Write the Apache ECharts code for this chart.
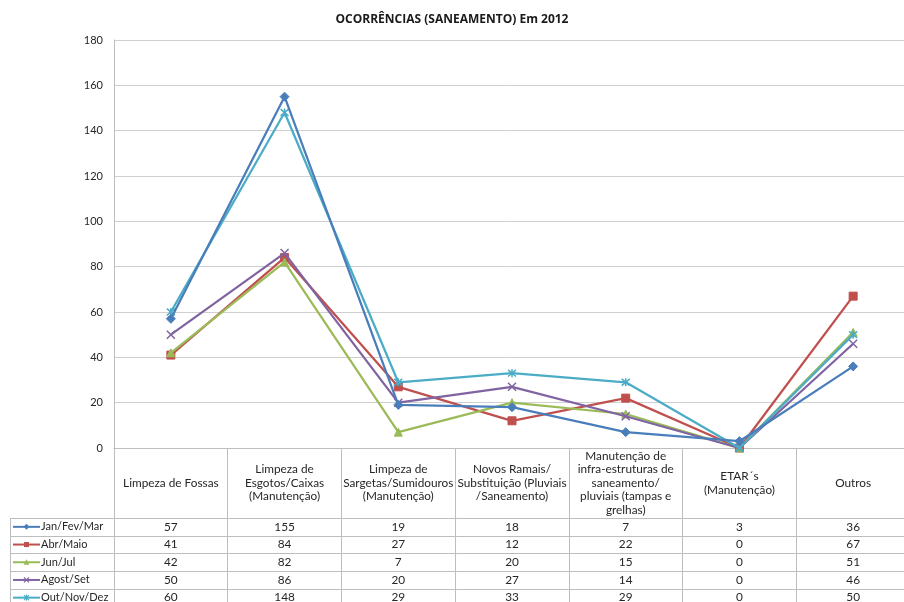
<!DOCTYPE html>
<html>
<head>
<meta charset="utf-8">
<script src="https://cdn.jsdelivr.net/npm/echarts@6/dist/echarts.min.js"></script>
<style>
  html, body { margin: 0; padding: 0; background: #ffffff; }
  #chart { width: 904px; height: 602px; }
</style>
</head>
<body>
<div id="chart"></div>
<script>
// Categories (header row of the data table)
const categories = [
  'Limpeza de Fossas',
  'Limpeza de\nEsgotos/Caixas\n(Manutenção)',
  'Limpeza de\nSargetas/Sumidouros\n(Manutenção)',
  'Novos Ramais/\nSubstituição (Pluviais\n/Saneamento)',
  'Manutenção de\ninfra-estruturas de\nsaneamento/\npluviais (tampas e\ngrelhas)',
  'ETAR´s\n(Manutenção)',
  'Outros'
];

// Period names and their occurrence counts
const seriesNames = ['Jan/Fev/Mar', 'Abr/Maio', 'Jun/Jul', 'Agost/Set', 'Out/Nov/Dez'];
const janFevMar = [57, 155, 19, 18, 7, 3, 36];
const abrMaio   = [41, 84, 27, 12, 22, 0, 67];
const junJul    = [42, 82, 7, 20, 15, 0, 51];
const agostSet  = [50, 86, 20, 27, 14, 0, 46];
const outNovDez = [60, 148, 29, 33, 29, 0, 50];
const seriesValues = [janFevMar, abrMaio, junJul, agostSet, outNovDez];

// Value axis ticks
const yTicks = [0, 20, 40, 60, 80, 100, 120, 140, 160, 180];

const colors = ['#4A7EBB', '#C0504D', '#9BBB59', '#8064A2', '#4BACC6'];
const xPath = 'path://M0,0L10,10M10,0L0,10';
const starPath = 'path://M0,0L10,10M10,0L0,10M5,-1L5,11';
const symbols = [
  { symbol: 'diamond', size: 9, hollow: false },
  { symbol: 'rect', size: 8, hollow: false },
  { symbol: 'triangle', size: 8, hollow: false },
  { symbol: xPath, size: 8, hollow: true },
  { symbol: starPath, size: 8, hollow: true }
];

const FONT = 'Lato';
const TABLE_FONT_SIZE = 11.8;
const LEGEND_FONT_SIZE = 11;
const gridColor = '#d0d0d0';
const tableColor = '#bdbdbd';

const chart = echarts.init(document.getElementById('chart'), null, { renderer: 'canvas' });

const option = {
  backgroundColor: '#ffffff',
  animation: false,
  title: {
    text: 'OCORRÊNCIAS (SANEAMENTO) Em 2012',
    left: 'center',
    top: 9,
    textStyle: { fontFamily: 'Open Sans', fontWeight: 'bold', fontSize: 12, color: '#1a1a1a' }
  },
  grid: { left: 114, top: 40, width: 796, height: 408, containLabel: false, outerBoundsMode: 'none' },
  xAxis: {
    type: 'category',
    data: categories,
    boundaryGap: true,
    axisLine: { show: true, lineStyle: { color: tableColor, width: 1 } },
    axisTick: { show: true, inside: false, length: 170, alignWithLabel: false, lineStyle: { color: tableColor } },
    axisLabel: {
      interval: 0,
      margin: 35,
      verticalAlign: 'middle',
      fontFamily: FONT,
      fontSize: TABLE_FONT_SIZE,
      lineHeight: 13.5,
      color: '#262626'
    },
    splitLine: { show: false }
  },
  yAxis: {
    type: 'value',
    min: yTicks[0],
    max: yTicks[yTicks.length - 1],
    interval: yTicks[1] - yTicks[0],
    axisLine: { show: true, lineStyle: { color: tableColor } },
    axisTick: { show: false },
    axisLabel: { fontFamily: FONT, fontSize: 11, color: '#262626', margin: 11 },
    splitLine: { show: true, lineStyle: { color: gridColor, width: 1 } }
  },
  series: seriesNames.map((name, i) => ({
    name,
    type: 'line',
    data: seriesValues[i],
    symbol: symbols[i].symbol,
    symbolSize: symbols[i].size,
    showAllSymbol: true,
    lineStyle: { color: colors[i], width: 2.25 },
    itemStyle: symbols[i].hollow
      ? { color: 'rgba(0,0,0,0)', borderColor: colors[i], borderWidth: 1.5 }
      : { color: colors[i], borderColor: colors[i], borderWidth: 1 },
    z: 2 + (i === 0 ? 5 : i)
  }))
};

chart.setOption(option);

// Small marker drawn inside a legend key, matching each series' symbol
function keyMarker(i, cx, cy) {
  const c = colors[i];
  const s = 3;
  if (i === 0) {
    return [{ type: 'polygon', silent: true, shape: { points: [[cx, cy - s], [cx + s, cy], [cx, cy + s], [cx - s, cy]] }, style: { fill: c } }];
  }
  if (i === 1) {
    return [{ type: 'rect', silent: true, shape: { x: cx - 2.5, y: cy - 2.5, width: 5, height: 5 }, style: { fill: c } }];
  }
  if (i === 2) {
    return [{ type: 'polygon', silent: true, shape: { points: [[cx, cy - s], [cx + s, cy + s - 0.5], [cx - s, cy + s - 0.5]] }, style: { fill: c } }];
  }
  const seg = (x1, y1, x2, y2) => ({ type: 'line', silent: true, shape: { x1, y1, x2, y2 }, style: { stroke: c, lineWidth: 1.2 } });
  const out = [seg(cx - 2.5, cy - 2.5, cx + 2.5, cy + 2.5), seg(cx + 2.5, cy - 2.5, cx - 2.5, cy + 2.5)];
  if (i === 4) out.push(seg(cx, cy - 3, cx, cy + 3));
  return out;
}

// Data table rows below the header, laid out from the axis scale
function buildTable() {
  const c0 = chart.convertToPixel({ xAxisIndex: 0 }, 0);
  const c1 = chart.convertToPixel({ xAxisIndex: 0 }, 1);
  const band = c1 - c0;
  const rightEdge = chart.convertToPixel({ xAxisIndex: 0 }, categories.length - 1) + band / 2;
  const yZero = chart.convertToPixel({ yAxisIndex: 0 }, 0);
  const headerH = 70;
  const rowH = 17.7;
  const tableTop = yZero + headerH;
  const legendLeft = 10;
  const els = [];

  // vertical edge of the legend column
  els.push({
    type: 'line', silent: true,
    shape: { x1: legendLeft + 0.5, y1: tableTop, x2: legendLeft + 0.5, y2: tableTop + rowH * seriesNames.length + 2 },
    style: { stroke: tableColor, lineWidth: 1 }
  });

  seriesNames.forEach((name, r) => {
    const top = tableTop + r * rowH;
    const mid = top + rowH / 2;
    els.push({
      type: 'line', silent: true,
      shape: { x1: legendLeft, y1: Math.round(top) + 0.5, x2: rightEdge, y2: Math.round(top) + 0.5 },
      style: { stroke: tableColor, lineWidth: 1 }
    });
    // legend key: short line with the series marker
    els.push({
      type: 'line', silent: true,
      shape: { x1: legendLeft + 3, y1: mid, x2: legendLeft + 30, y2: mid },
      style: { stroke: colors[r], lineWidth: 2 }
    });
    keyMarker(r, legendLeft + 16.5, mid).forEach(e => els.push(e));
    els.push({
      type: 'text', silent: true,
      x: legendLeft + 31, y: mid,
      style: { text: name, fontFamily: FONT, fontSize: LEGEND_FONT_SIZE, fill: '#262626', verticalAlign: 'middle', align: 'left' }
    });
    seriesValues[r].forEach((v, k) => {
      els.push({
        type: 'text', silent: true,
        x: chart.convertToPixel({ xAxisIndex: 0 }, k), y: mid,
        style: { text: String(v), fontFamily: FONT, fontSize: TABLE_FONT_SIZE, fill: '#262626', verticalAlign: 'middle', align: 'center' }
      });
    });
  });

  chart.setOption({ graphic: { elements: els } });
}

buildTable();
</script>
</body>
</html>
